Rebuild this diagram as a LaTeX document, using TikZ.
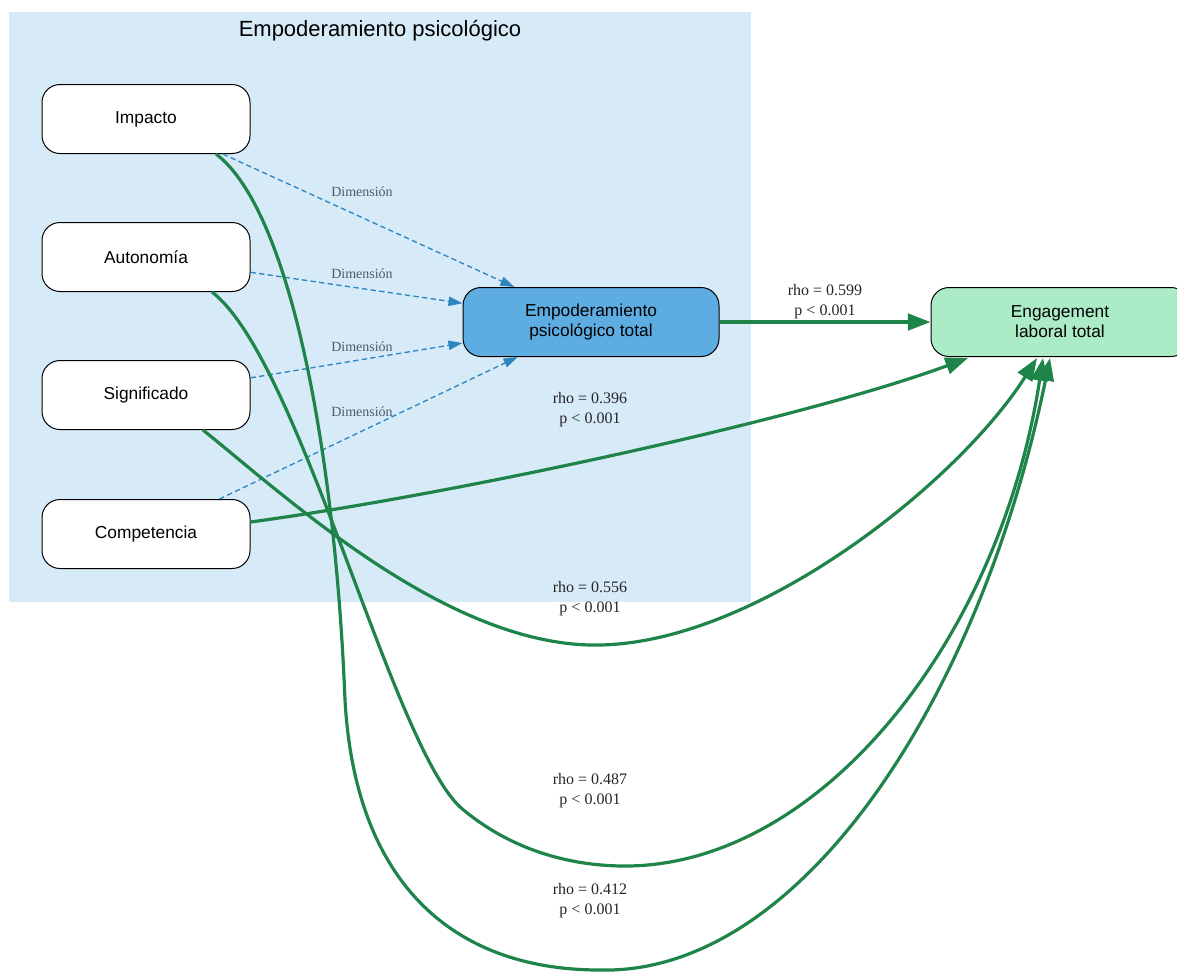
\documentclass[tikz,border=0pt]{standalone}
\usepackage{fontspec}
\setmainfont{Liberation Serif}
\newfontfamily\arialfont{Liberation Sans}
\usetikzlibrary{arrows.meta,calc}
\definecolor{clusterbg}{HTML}{D6EAF8}
\definecolor{empfill}{HTML}{5DADE2}
\definecolor{engfill}{HTML}{ABEBC6}
\definecolor{greenedge}{HTML}{1E8449}
\definecolor{blueedge}{HTML}{2E86C1}
\definecolor{dimtext}{HTML}{4D5B69}
\tikzset{
  dimbox/.style={draw=black, line width=0.75pt, fill=white, rounded corners=13.5pt,
    minimum width=156pt, minimum height=51.75pt, inner sep=0pt, align=center,
    font=\arialfont\fontsize{13}{15}\selectfont},
  empbox/.style={dimbox, fill=empfill, minimum width=192pt},
  engbox/.style={dimbox, fill=engfill, minimum width=193.5pt},
  titlestyle/.style={inner sep=0pt, font=\arialfont\fontsize{16.5}{19}\selectfont},
  dimedge/.style={blueedge, line width=1pt, dash pattern=on 4pt off 2.5pt,
    -{Triangle[length=10.5pt,width=7pt]}},
  corredge/.style={greenedge, line width=2.4pt,
    -{Triangle[length=17pt,width=12.5pt]}},
  dimlabel/.style={text=dimtext, inner sep=0pt, font=\fontsize{10.5}{12}\selectfont},
  corrlabel/.style={align=center, inner sep=0pt, text=black!85, font=\fontsize{12}{15}\selectfont}
}
\begin{document}
\begin{tikzpicture}[x=0.75pt,y=-0.75pt]
\useasboundingbox (0,0) rectangle (1177,972);
\fill[clusterbg] (9,12) rectangle (751,602);
\node[titlestyle] (ctitle) at (380,31) {Empoderamiento psicológico};

\node[dimbox] (imp) at (146,119) {Impacto};
\node[dimbox] (aut) at (146,257) {Autonomía};
\node[dimbox] (sig) at (146,395) {Significado};
\node[dimbox] (com) at (146,534) {Competencia};
\node[empbox] (emp) at (591,322) {Empoderamiento\\psicológico total};
\node[engbox] (eng) at (1060,322) {Engagement\\laboral total};

% dimension labels
\node[dimlabel] (d1) at (362,192) {Dimensión};
\node[dimlabel] (d2) at (362,274) {Dimensión};
\node[dimlabel] (d3) at (362,347) {Dimensión};
\node[dimlabel] (d4) at (362,412) {Dimensión};

% correlation labels
\node[corrlabel] (r1) at (825,302) {rho = 0.599\\p < 0.001};
\node[corrlabel] (r2) at (590,410) {rho = 0.396\\p < 0.001};
\node[corrlabel] (r3) at (590,599) {rho = 0.556\\p < 0.001};
\node[corrlabel] (r4) at (590,791) {rho = 0.487\\p < 0.001};
\node[corrlabel] (r5) at (590,901) {rho = 0.412\\p < 0.001};

% dashed dimension edges
\draw[dimedge] (imp) -- (emp);
\draw[dimedge] (aut) -- (emp);
\draw[dimedge] (sig) -- (emp);
\draw[dimedge] (com) -- (emp);

% correlation edges
\draw[corredge] (emp) -- (eng);
\draw[corredge] ($(com.east)+(0,-12)$) .. controls (450,495) and (800,420) .. ($(eng.south)+(-92,1)$);
\draw[corredge] ($(sig.south)+(57,0)$) .. controls (290,500) and (450,648) .. (600,645)
  .. controls (760,642) and (960,480) .. ($(eng.south)+(-23,1)$);
\draw[corredge] ($(aut.south)+(66,0)$) .. controls (300,360) and (390,740) .. (460,807)
  .. controls (510,850) and (570,866) .. (625,866)
  .. controls (820,866) and (1000,640) .. ($(eng.south)+(-17,1)$);
\draw[corredge] ($(imp.south)+(70,0)$) .. controls (290,210) and (335,450) .. (345,700)
  .. controls (355,880) and (450,970) .. (600,970)
  .. controls (800,975) and (980,700) .. ($(eng.south)+(-10,1)$);
\end{tikzpicture}
\end{document}
